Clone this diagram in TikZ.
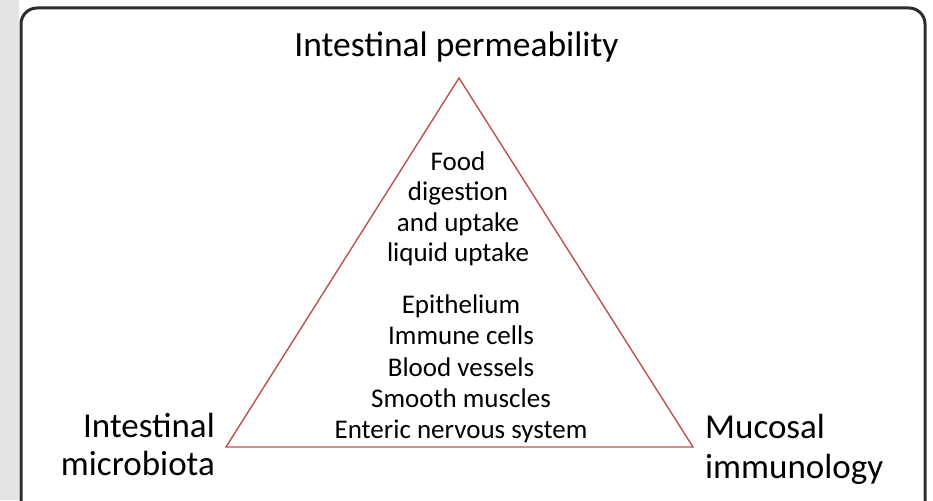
\documentclass[tikz,border=0pt]{standalone}
\usepackage{fontspec}
\setmainfont{Carlito}
\definecolor{tri}{RGB}{192,80,77}
\definecolor{frame}{RGB}{45,45,45}
\definecolor{strip}{RGB}{228,228,228}
\begin{document}
\begin{tikzpicture}[x=1pt,y=-1pt,
  big/.style={font=\fontsize{35.5}{40}\selectfont, inner sep=0pt, anchor=base},
  corner/.style={font=\fontsize{35}{40}\selectfont, inner sep=0pt},
  small/.style={font=\fontsize{27}{31}\selectfont, inner sep=0pt, anchor=base},
  triline/.style={draw=tri, line width=1.4pt, line join=miter}]
\useasboundingbox (0,0) rectangle (933,500);
\fill[white] (0,0) rectangle (933,500);
\fill[strip] (0,0) rectangle (19,500);
\draw[frame, line width=3pt, rounded corners=16pt] (21,530) -- (21,8) -- (925,8) -- (925,530);
% triangle corners
\coordinate (top) at (459,78);
\coordinate (bl) at (226,447);
\coordinate (br) at (693,447);
\draw[triline] (top) -- (bl) -- (br) -- cycle;
% corner labels
\node[big, anchor=base] (perm) at (456.5,57) {Intestinal permeability};
\node[corner, anchor=base east] (mb1) at (215,437) {Intestinal};
\node[corner, anchor=base east] (mb2) at (215,475) {microbiota};
\node[corner, anchor=base west] (mi1) at (705,438) {Mucosal};
\node[corner, anchor=base west] (mi2) at (705,478) {immunology};
% inner texts
\node[small] (f1) at (458,170) {Food};
\node[small] (f2) at (458,200.5) {digestion};
\node[small] (f3) at (458,231) {and uptake};
\node[small] (f4) at (458,261.5) {liquid uptake};
\node[small] (c1) at (461,313) {Epithelium};
\node[small] (c2) at (461,344.5) {Immune cells};
\node[small] (c3) at (461,376) {Blood vessels};
\node[small] (c4) at (461,407) {Smooth muscles};
\node[small] (c5) at (461,438) {Enteric nervous system};
\end{tikzpicture}
\end{document}
